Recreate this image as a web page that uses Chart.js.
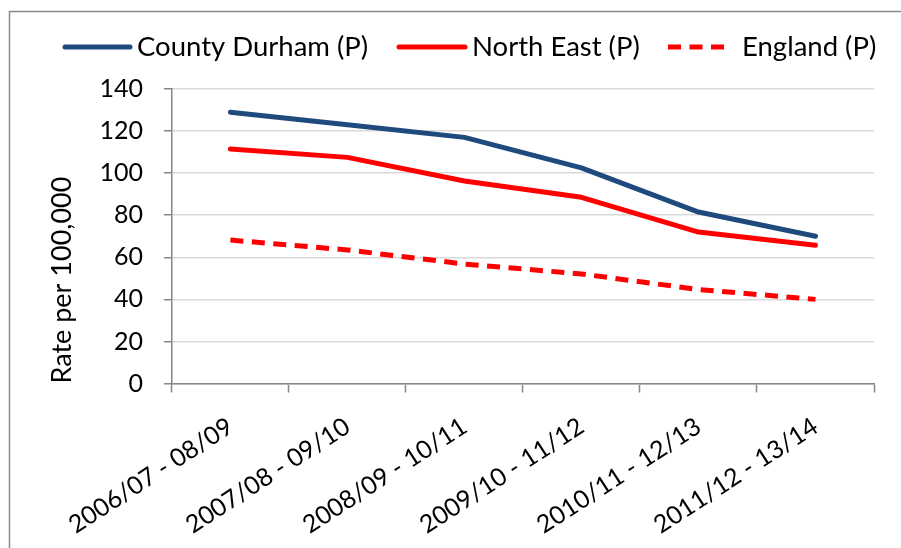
<!DOCTYPE html>
<html>
<head>
<meta charset="utf-8">
<title>Rate per 100,000</title>
<script src="https://cdn.jsdelivr.net/npm/chart.js@4"></script>
<style>
  html, body { margin: 0; padding: 0; background: #fff; }
</style>
</head>
<body>
<canvas id="myChart" width="901" height="548"></canvas>

<script>
// data
var periods = ['2006/07 - 08/09', '2007/08 - 09/10', '2008/09 - 10/11', '2009/10 - 11/12', '2010/11 - 12/13', '2011/12 - 13/14'];
var seriesNames = ['County Durham (P)', 'North East (P)', 'England (P)'];
var countyDurham = [129, 123, 117, 102.5, 81.5, 70];
var northEast = [111.5, 107.5, 96.3, 88.5, 72, 65.7];
var england = [68.2, 63.5, 56.8, 52.1, 44.7, 40];
var yMin = 0, yMax = 140, yStep = 20;

var axisGrey = '#868686';
var fontName = 'Lato, "Open Sans", sans-serif';

// frame around the chart (runs off right/bottom like the original)
var framePlugin = {
  id: 'frame',
  beforeDraw: function(chart) {
    var ctx = chart.ctx;
    ctx.save();
    ctx.fillStyle = '#fff';
    ctx.fillRect(0, 0, chart.width, chart.height);
    ctx.strokeStyle = '#8a8a8a';
    ctx.lineWidth = 1.5;
    ctx.strokeRect(9.5, 11.5, chart.width + 20, chart.height + 20);
    ctx.restore();
  }
};

// legend drawn by hand so the spacing matches
var legendPos = { starts: [65, 399, 668], lengths: [65, 66, 58], textX: [137, 472, 742], y: 47, baseline: 56 };
var legendPlugin = {
  id: 'topLegend',
  afterDraw: function(chart) {
    var ctx = chart.ctx;
    ctx.save();
    ctx.font = '27.5px ' + fontName;
    ctx.textBaseline = 'alphabetic';
    chart.data.datasets.forEach(function(ds, i) {
      var x = legendPos.starts[i];
      var len = legendPos.lengths[i];
      ctx.beginPath();
      ctx.setLineDash(ds.borderDash || []);
      ctx.lineCap = ds.borderDash ? 'butt' : 'round';
      ctx.lineWidth = ds.borderWidth;
      ctx.strokeStyle = ds.borderColor;
      ctx.moveTo(x, legendPos.y);
      ctx.lineTo(x + len, legendPos.y);
      ctx.stroke();
      ctx.setLineDash([]);
      ctx.fillStyle = '#000';
      ctx.fillText(ds.label, legendPos.textX[i], legendPos.baseline);
    });
    ctx.restore();
  }
};

var ctx = document.getElementById('myChart').getContext('2d');
var myChart = new Chart(ctx, {
  type: 'line',
  data: {
    labels: periods,
    datasets: [{
      label: seriesNames[0],
      data: countyDurham,
      borderColor: '#1F4A7E',
      borderWidth: 5,
      borderCapStyle: 'round',
      borderJoinStyle: 'round'
    }, {
      label: seriesNames[1],
      data: northEast,
      borderColor: '#FF0000',
      borderWidth: 5,
      borderCapStyle: 'round',
      borderJoinStyle: 'round'
    }, {
      label: seriesNames[2],
      data: england,
      borderColor: '#FF0000',
      borderWidth: 5,
      borderDash: [13, 8.5],
      borderCapStyle: 'butt'
    }]
  },
  options: {
    responsive: false,
    animation: false,
    devicePixelRatio: 1,
    layout: { padding: { left: 10, right: 27, top: 89, bottom: -11 } },
    elements: { point: { radius: 0, hoverRadius: 0 }, line: { tension: 0, fill: false } },
    plugins: {
      legend: { display: false },
      tooltip: { enabled: false }
    },
    scales: {
      x: {
        offset: true,
        grid: { offset: true, drawOnChartArea: false, drawTicks: true, tickLength: 9, tickColor: axisGrey, tickWidth: 1.5 },
        border: { color: axisGrey, width: 1.5 },
        ticks: {
          autoSkip: false,
          minRotation: 33,
          maxRotation: 33,
          padding: 19,
          color: '#000',
          font: { family: fontName, size: 25 }
        }
      },
      y: {
        min: yMin,
        max: yMax,
        grid: { color: '#d9d9d9', lineWidth: 1.5, tickLength: 8, tickColor: axisGrey, tickWidth: 1.5 },
        border: { color: axisGrey, width: 1.5 },
        ticks: {
          stepSize: yStep,
          padding: 21,
          color: '#000',
          font: { family: fontName, size: 25 }
        },
        title: {
          display: true,
          text: 'Rate per 100,000',
          align: 'start',
          color: '#000',
          font: { family: fontName, size: 27 },
          padding: { top: 36, bottom: 0 }
        }
      }
    }
  },
  plugins: [framePlugin, legendPlugin]
});
</script>
</body>
</html>
